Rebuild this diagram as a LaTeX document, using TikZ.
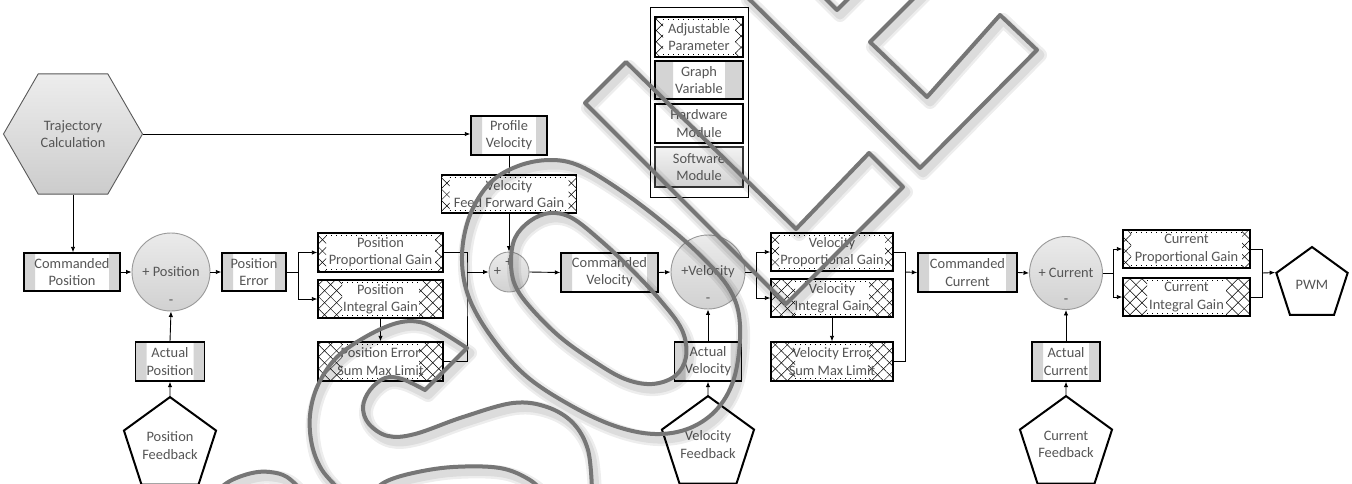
\documentclass[tikz,border=0pt]{standalone}
\usepackage{fontspec}
\setmainfont{Carlito}
\usetikzlibrary{shapes.geometric,arrows.meta,patterns.meta}

\definecolor{labelgray}{RGB}{85,85,85}
\definecolor{bandgray}{RGB}{212,212,212}
\definecolor{markgray}{RGB}{118,118,118}

% cross-hatched side strips and dotted inner rims of a parameter box
\newcommand\hatchstrips[2]{%
  \fill[pattern={Lines[angle=45,distance=#2,line width=0.5pt]},pattern color=black]
    (path picture bounding box.south west) rectangle ([xshift=#1]path picture bounding box.north west)
    (path picture bounding box.south east) rectangle ([xshift=-#1]path picture bounding box.north east);
  \fill[pattern={Lines[angle=-45,distance=#2,line width=0.5pt]},pattern color=black]
    (path picture bounding box.south west) rectangle ([xshift=#1]path picture bounding box.north west)
    (path picture bounding box.south east) rectangle ([xshift=-#1]path picture bounding box.north east);
  \draw[line width=0.6pt,dash pattern=on 0.7pt off 4.3pt]
    ([xshift=#1,yshift=-2.5pt]path picture bounding box.north west) -- ([xshift=-#1,yshift=-2.5pt]path picture bounding box.north east)
    ([xshift=#1,yshift=2.5pt]path picture bounding box.south west) -- ([xshift=-#1,yshift=2.5pt]path picture bounding box.south east);
}
% shaded side bands of a graph variable box
\newcommand\bandstrips[1]{%
  \fill[bandgray]
    (path picture bounding box.south west) rectangle ([xshift=#1]path picture bounding box.north west)
    (path picture bounding box.south east) rectangle ([xshift=-#1]path picture bounding box.north east);
}
% outlined background lettering
\newcommand\wmletters{%
  (585,103) -- (626,62) -- (796,229) -- (869,153) -- (903,187) -- (786,304) -- cycle
  (745,-5) -- (920,168) -- (1037,50) -- (1000,15) -- (927,97) -- (870,42) -- (925,-13)
  (815,-12) -- (837,10) -- (860,-13)
  plot[smooth cycle,tension=0.6] coordinates {(462,255) (470,215) (490,183) (518,166) (550,160) (580,166) (620,190) (660,220) (700,255) (730,290) (740,325) (735,375) (718,408) (690,428) (655,434) (615,426) (570,405) (525,375) (490,335) (468,295)}
  plot[smooth cycle,tension=0.6] coordinates {(511,262) (515,238) (530,221) (550,213) (572,218) (600,240) (630,268) (660,300) (682,330) (686,357) (675,376) (652,384) (625,379) (595,362) (560,337) (530,307) (515,285)}
  plot[smooth,tension=0.6] coordinates {(467,348) (440,331) (420,322) (397,323) (367,336) (337,357) (318,385) (310,415) (312,445) (322,470) (340,490)}
  (467,348) -- (425,390)
  plot[smooth,tension=0.6] coordinates {(425,390) (402,379) (385,378) (370,390) (363,407) (369,424) (388,436) (415,434) (463,417) (513,403) (547,407) (573,423) (588,450) (592,490)}
  plot[smooth,tension=0.6] coordinates {(370,495) (385,482) (413,473) (453,467) (500,468) (530,480) (545,495)}
  plot[smooth,tension=0.6] coordinates {(212,495) (230,481) (252,473) (270,472) (287,477) (303,492)}
}

\tikzset{
  lbl/.style={font=\fontsize{14.4}{17.3}\selectfont,text=labelgray,align=center,inner sep=0pt},
  sz/.style 2 args={minimum width=#1,minimum height=#2},
  gvband/.store in=\gvband, gvband=11pt,
  adjstrip/.store in=\adjstrip, adjstrip=8pt,
  adjgap/.store in=\adjgap, adjgap=8pt,
  gvbox/.style={rectangle,draw=black,line width=1.4pt,fill=white,path picture={\bandstrips{\gvband}}},
  adjbox/.style={rectangle,draw=black,line width=1.4pt,fill=white,path picture={\hatchstrips{\adjstrip}{\adjgap}}},
  adjsparse/.style={adjbox,adjstrip=8pt,adjgap=8pt},
  adjdense/.style={adjbox,adjstrip=24pt,adjgap=8.5pt},
  hwbox/.style={rectangle,draw=black,line width=2.2pt,fill=white},
  swbox/.style={rectangle,draw=black!80,line width=1.3pt,top color=gray!10,bottom color=gray!35},
  swhex/.style={regular polygon,regular polygon sides=6,draw=black!65,line width=0.9pt,top color=gray!14,bottom color=gray!40},
  hwpent/.style={regular polygon,regular polygon sides=5,draw=black,line width=2pt,fill=white},
  sumnode/.style={circle,draw=gray!80,line width=0.9pt,top color=gray!16,bottom color=gray!36},
  conn/.style={draw=black,line width=0.9pt,-{Latex[length=5.5pt,width=4.5pt]}},
  wire/.style={draw=black,line width=0.9pt},
  markline/.style={draw=markgray,line width=4pt,line join=round,line cap=round},
  markshade/.style={draw=black,line join=round,line cap=round,opacity=0.07,line width=#1,shift={(3,5)}}
}

\begin{document}
\begin{tikzpicture}[x=1pt,y=-1pt,every node/.style=lbl]
\fill[white] (0,0) rectangle (1352,483);
\useasboundingbox (0,0) rectangle (1352,483);

% trajectory and position loop
\node[swhex,minimum size=139pt] (traj) at (73,134) {Trajectory\\Calculation};
\node[gvbox,sz={96pt}{38pt}] (cmdpos) at (72,272) {Commanded\\Position};
\node[sumnode,minimum size=78pt] (possum) at (171,272) {+ Position};
\node (posneg) at ([yshift=9pt]possum.south) {-};
\node[gvbox,sz={64pt}{38pt}] (poserr) at (254,272) {Position\\Error};
\node[gvbox,sz={69pt}{39pt}] (actpos) at (170,361.5) {Actual\\Position};
\node[hwpent,minimum size=85pt] (posfb) at (170,445.5) {Position\\Feedback};
\node[adjsparse,sz={125pt}{39pt}] (ppg) at (380.5,252.5) {Position\\Proportional Gain};
\node[adjdense,sz={125pt}{38pt}] (pig) at (380.5,299) {Position\\Integral Gain};
\node[adjdense,sz={125pt}{39pt}] (pesml) at (380.5,361.5) {Position Error\\Sum Max Limit};

% velocity feed forward and velocity loop
\node[sumnode,minimum size=40pt] (sumj) at (509,272) {};
\node (sumjleft) at ([xshift=9pt]sumj.west) {+};
\node (sumjtop) at ([yshift=-11pt]sumj.north) {+};
\node[gvbox,sz={76pt}{39pt}] (profvel) at (509,135.5) {Profile\\Velocity};
\node[adjsparse,sz={135pt}{38pt}] (vffg) at (509,194) {Velocity\\Feed Forward Gain};
\node[gvbox,sz={97pt}{39pt}] (cmdvel) at (609.5,272.5) {Commanded\\Velocity};
\node[sumnode,minimum size=74pt] (velsum) at (708,272) {+Velocity};
\node (velneg) at ([yshift=9pt]velsum.south) {-};
\node[gvbox,sz={67pt}{39pt}] (actvel) at (708,361.5) {Actual\\Velocity};
\node[hwpent,minimum size=83pt] (velfb) at (708,444.5) {Velocity\\Feedback};
\node[adjsparse,sz={122pt}{38pt}] (vpg) at (832,252) {Velocity\\Proportional Gain};
\node[adjdense,sz={122pt}{38pt}] (vig) at (832,298) {Velocity\\Integral Gain};
\node[adjdense,sz={122pt}{39pt}] (vesml) at (832,361.5) {Velocity Error\\Sum Max Limit};

% current loop
\node[gvbox,sz={99pt}{39pt}] (cmdcur) at (967.5,272.5) {Commanded\\Current};
\node[sumnode,minimum size=73pt] (cursum) at (1066,273) {+ Current};
\node (curneg) at ([yshift=9pt]cursum.south) {-};
\node[gvbox,sz={68pt}{39pt}] (actcur) at (1066,361.5) {Actual\\Current};
\node[hwpent,minimum size=83pt] (curfb) at (1066,444.5) {Current\\Feedback};
\node[adjsparse,sz={127pt}{38pt}] (cpg) at (1186.5,249) {Current\\Proportional Gain};
\node[adjdense,sz={127pt}{38pt}] (cig) at (1186.5,297) {Current\\Integral Gain};
\node[hwpent,minimum size=75pt] (pwm) at (1312,284.5) {PWM};

% legend
\node[draw=black,line width=0.8pt,sz={98pt}{190pt}] (legend) at (699,102) {};
\node[adjsparse,sz={88pt}{40pt}] (legadj) at (699,37) {Adjustable\\Parameter};
\node[gvbox,gvband=18pt,sz={88pt}{38pt}] (leggv) at (699,80) {Graph\\Variable};
\node[hwbox,sz={88pt}{39pt}] (leghw) at (699,123.5) {Hardware\\Module};
\node[swbox,sz={88pt}{40pt}] (legsw) at (699,167) {Software\\Module};

% junction points
\coordinate (j1) at (298,272);
\coordinate (j2) at (467,272);
\coordinate (j3) at (756,272);
\coordinate (j4) at (905,272);
\coordinate (j5) at (1113,273);
\coordinate (j6) at (1262,273);

% connectors
\draw[conn] (traj.east) -- (traj.east -| profvel.west);
\draw[conn] (traj.south) -- (traj.south |- cmdpos.north);
\draw[conn] (cmdpos.east) -- (possum.west);
\draw[conn] (possum.east) -- (poserr.west);
\draw[conn] (actpos.north) -- (possum.south);
\draw[conn] (posfb.north) -- (actpos.south);
\draw[wire] (poserr.east) -- (j1);
\draw[conn] (j1) |- (ppg.west);
\draw[conn] (j1) |- (pig.west);
\draw[conn] (pig.south) -- (pesml.north);
\draw[wire] (ppg.east) -| (j2) |- (pesml.east);
\draw[conn] (j2) -- (sumj.west);
\draw[conn] (profvel.south) -- (vffg.north);
\draw[conn] (vffg.south) -- (sumj.north);
\draw[conn] (sumj.east) -- (cmdvel.west);
\draw[conn] (cmdvel.east) -- (velsum.west);
\draw[conn] (actvel.north) -- (velsum.south);
\draw[conn] (velfb.north) -- (actvel.south);
\draw[wire] (velsum.east) -- (j3);
\draw[conn] (j3) |- (vpg.west);
\draw[conn] (j3) |- (vig.west);
\draw[conn] (vig.south) -- (vesml.north);
\draw[wire] (vpg.east) -| (j4) |- (vesml.east);
\draw[conn] (j4) -- (cmdcur.west);
\draw[conn] (cmdcur.east) -- (cursum.west);
\draw[conn] (actcur.north) -- (cursum.south);
\draw[conn] (curfb.north) -- (actcur.south);
\draw[wire] (cursum.east) -- (j5);
\draw[conn] (j5) |- (cpg.west);
\draw[conn] (j5) |- (cig.west);
\draw[wire] (cpg.east) -| (j6) |- (cig.east);
\draw[conn] (j6) -- (pwm.162);

% outlined lettering across the sheet
\begin{scope}
  \clip (0,0) rectangle (1352,483);
  \draw[markshade=14pt] \wmletters;
  \draw[markshade=9pt] \wmletters;
  \draw[markline] \wmletters;
\end{scope}
\end{tikzpicture}
\end{document}
